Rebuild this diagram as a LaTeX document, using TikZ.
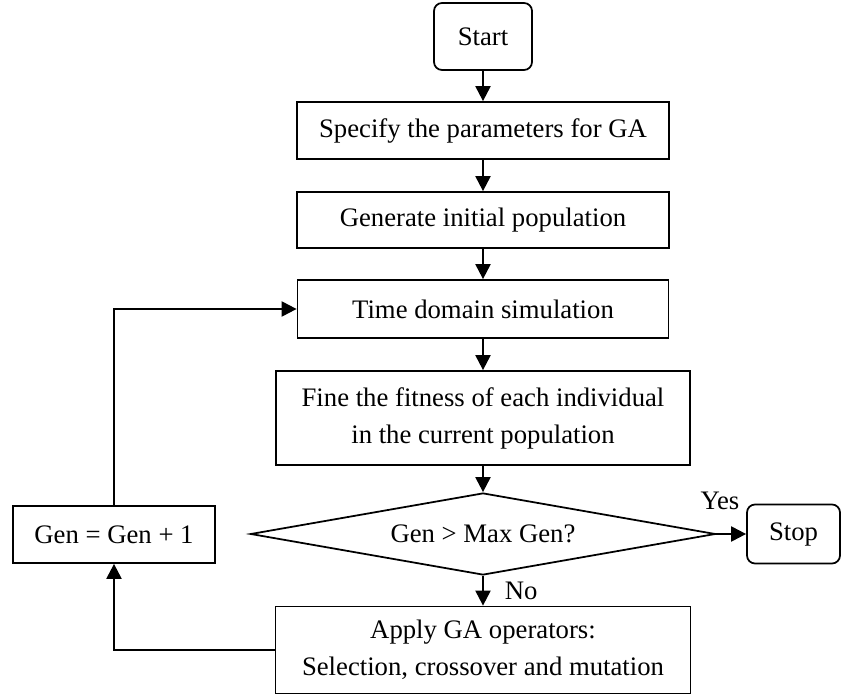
\documentclass[tikz,border=0pt]{standalone}
\usepackage{fontspec}
\setmainfont{Liberation Serif}
\usetikzlibrary{shapes.geometric, arrows.meta}

\begin{document}
\begin{tikzpicture}[font=\fontsize{15.2}{21}\selectfont,
    box/.style={draw,line width=1pt,align=center,inner sep=0pt},
    term/.style={box,rounded corners=0.16cm},
    dec/.style={draw,line width=1pt,diamond,aspect=5.67,inner sep=0pt},
    arr/.style={line width=1.2pt,-{Triangle[length=0.3cm,width=0.3cm]}}]
            \useasboundingbox (0,0) rectangle (16.88,-13.92);
            \node[term,minimum width=1.96cm,minimum height=1.34cm] (start) at (9.66,-0.73) {Start};
            \node[box,minimum width=7.44cm,minimum height=1.14cm] (spec) at (9.66,-2.61) {Specify the parameters for GA};
            \node[box,minimum width=7.44cm,minimum height=1.12cm] (init) at (9.66,-4.40) {Generate initial population};
            \node[box,minimum width=7.42cm,minimum height=1.16cm] (sim) at (9.66,-6.18) {Time domain simulation};
            \node[box,minimum width=8.28cm,minimum height=1.88cm] (fit) at (9.66,-8.36) {Fine the fitness of each individual\\in the current population};
            \node[dec,minimum width=9.3cm,minimum height=1.64cm] (check) at (9.66,-10.68) {Gen > Max Gen?};
            \node[term,minimum width=1.86cm,minimum height=1.18cm] (stop) at (15.87,-10.68) {Stop};
            \node[box,minimum width=8.3cm,minimum height=1.74cm] (ops) at (9.66,-13.0) {Apply GA operators:\\Selection, crossover and mutation};
            \node[box,minimum width=4.04cm,minimum height=1.14cm] (gen) at (2.28,-10.69) {Gen = Gen + 1};
            \draw[arr] (start) -- (spec);
            \draw[arr] (spec) -- (init);
            \draw[arr] (init) -- (sim);
            \draw[arr] (sim) -- (fit);
            \draw[arr] (fit) -- (check);
            \draw[arr] (check.east) -- node[pos=0.12,above=0.35cm]{Yes} (stop.west);
            \draw[arr] (check.south) -- node[right=0.3cm]{No} (ops.north);
            \draw[arr] (ops.west) -| (gen.south);
            \draw[arr] (gen.north) |- (sim.west);
        \end{tikzpicture}
\end{document}
